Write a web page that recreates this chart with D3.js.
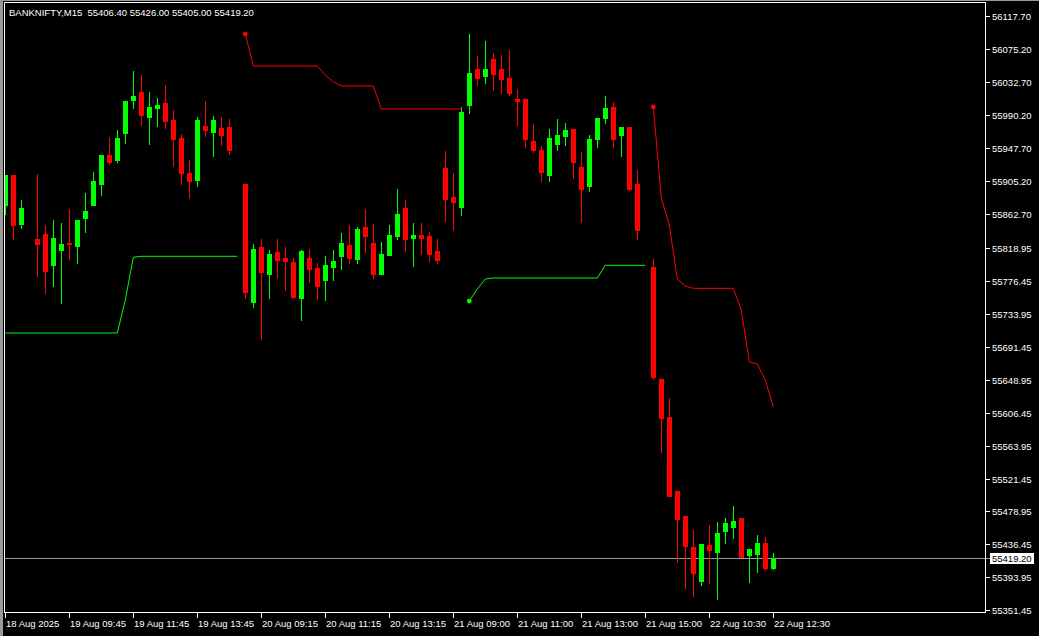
<!DOCTYPE html>
<html><head><meta charset="utf-8">
<script src="https://cdn.jsdelivr.net/npm/d3@7"></script>
<style>html,body{margin:0;padding:0;background:#000;overflow:hidden}svg{display:block}</style>
</head><body><svg id="c" width="1039" height="636"></svg>
<script>
const symbolTitle = "BANKNIFTY,M15";
const opens = [55874.3,55913.0,55849.8,null,55830.4,55836.9,55796.9,55816.2,55825.3,55821.4,
55857.5,55874.3,55901.4,55938.8,55932.3,55967.2,56009.7,56020.1,55987.8,55999.4,
56005.9,55983.9,55960.7,55915.6,55906.5,55976.2,55968.5,55973.6,55974.9,null,
55901.4,55749.2,55820.1,55785.3,55813.7,55805.9,55800.8,55754.3,55805.9,55793.0,
55777.5,55794.3,55808.5,55822.7,55804.6,55845.9,55825.3,55785.3,55809.8,55834.3,
55870.4,55831.7,55835.6,55834.3,55814.9,55922.0,55884.6,55871.7,56003.3,56049.7,
56040.7,56062.6,56049.7,56038.1,56011.0,56011.0,55956.8,55945.2,55913.0,55953.0,
55963.3,55972.3,55923.3,55898.8,55959.4,55986.5,56000.7,55964.6,55974.9,55901.4,
null,55794.3,55649.8,55600.8,55505.3,55473.1,55433.1,55389.2,55435.7,55426.7,
55453.7,55458.9,55470.5,55422.8,55424.1,55438.3,55406.4];
const highs = [55913.0,55913.0,55880.7,null,55914.3,55848.5,55854.9,55851.1,55869.1,55854.9,
55889.8,55916.9,55938.8,55962.0,55971.0,56008.4,56047.1,56042.0,56020.1,56012.3,
56029.1,55996.8,55965.9,55932.3,55987.8,56008.4,55989.1,55987.8,55985.2,null,
55901.4,55824.0,55830.4,55816.2,55830.4,55820.1,55805.9,55816.2,55817.5,55799.5,
55808.5,55816.2,55838.2,55848.5,55845.9,55869.1,55849.8,55826.6,55848.5,55894.9,
55880.7,55851.1,55851.1,55839.5,55830.4,55943.9,55915.6,56000.7,56094.9,56066.5,
56085.8,56070.4,56067.8,56074.2,56023.9,56011.0,55978.8,55950.4,55972.3,55985.2,
55980.1,55972.3,55942.7,55964.6,55986.5,56014.9,56007.2,55974.9,55974.9,55919.4,
null,55804.6,55649.8,55625.3,55505.3,55473.1,55455.0,55437.0,55461.5,55465.4,
55470.5,55486.0,55470.5,55430.5,55448.6,55446.0,55426.0];
const lows = [55862.7,55830.4,55844.6,null,55782.7,55760.8,55769.8,55747.9,55804.6,55799.5,
55839.5,55874.3,55887.2,55927.2,55929.8,55954.3,55999.4,55977.5,55953.0,55976.2,
55973.6,55924.6,55901.4,55883.3,55898.8,55963.3,55937.5,55951.7,55940.1,null,
55754.3,55742.7,55701.4,55754.3,55780.1,55764.6,55754.3,55725.9,55775.0,55753.0,
55751.7,55777.5,55791.7,55799.5,55799.5,55813.7,55780.1,55785.3,55809.8,55830.4,
55814.9,55795.6,55811.1,55802.0,55799.5,55853.6,55842.0,55861.4,55993.0,56029.1,
56031.7,56022.6,56018.8,56016.2,55977.5,55949.1,55942.7,55905.2,55905.2,55945.2,
55951.7,55909.1,55852.4,55892.3,55949.1,55980.1,55949.1,55937.5,55893.6,55830.4,
null,55649.8,55555.7,55498.9,55413.8,55380.2,55369.9,55384.1,55386.7,55366.0,
55438.3,55444.7,55420.2,55388.0,55400.9,55403.4,55405.0];
const closes = [55913.0,55848.5,55870.4,null,55824.0,55789.1,55831.7,55824.0,55824.0,55854.9,
55866.5,55905.2,55938.8,55929.8,55960.7,56008.4,56014.9,55990.4,56000.7,56003.3,
55982.6,55959.4,55915.6,55905.2,55983.9,55971.0,55983.9,55964.6,55945.2,null,
55762.1,55817.5,55787.9,55811.1,55803.3,55802.0,55755.6,55814.9,55791.7,55769.8,
55796.9,55802.0,55825.3,55805.9,55843.3,55834.3,55785.3,55811.1,55835.6,55862.7,
55830.4,55835.6,55831.7,55811.1,55803.3,55882.0,55878.2,55994.3,56044.6,56038.1,
56049.7,56043.3,56036.8,56018.8,56008.4,55959.4,55945.2,55916.9,55960.7,55964.6,
55971.0,55929.8,55894.9,55959.4,55986.5,55999.4,55959.4,55974.9,55894.9,55842.0,
null,55652.4,55599.5,55498.9,55469.2,55434.4,55399.6,55437.0,55429.2,55451.2,
55464.1,55466.6,55420.2,55430.5,55438.3,55406.0,55419.2];
// trailing stop indicator: up-trend (green) and down-trend (red) values
const upTrend = [55709.2,55709.2,55709.2,55709.2,55709.2,55709.2,55709.2,55709.2,55709.2,55709.2,
55709.2,55709.2,55709.2,55709.2,55709.2,55751.7,55806.8,55808.1,55808.1,55808.1,
55808.1,55808.1,55808.1,55808.1,55808.1,55808.1,55808.1,55808.1,55808.1,55808.1,
null,null,null,null,null,null,null,null,null,null,
null,null,null,null,null,null,null,null,null,null,
null,null,null,null,null,null,null,null,55750.4,55765.9,
55778.8,55780.1,55780.1,55780.1,55780.1,55780.1,55780.1,55780.1,55780.1,55780.1,
55780.1,55780.1,55780.1,55780.1,55780.1,55796.5,55796.5,55796.5,55796.5,55796.5,
55796.5,null,null,null,null,null,null,null,null,null,
null,null,null,null,null,null,null];
const downTrend = [null,null,null,null,null,null,null,null,null,null,
null,null,null,null,null,null,null,null,null,null,
null,null,null,null,null,null,null,null,null,null,
56094.9,56053.6,56053.6,56053.6,56053.6,56053.6,56053.6,56053.6,56053.6,56053.6,
56042.0,56033.0,56027.8,56027.8,56027.8,56027.8,56027.8,55998.1,55998.1,55998.1,
55998.1,55998.1,55998.1,55998.1,55998.1,55998.1,55998.1,55998.1,null,null,
null,null,null,null,null,null,null,null,null,null,
null,null,null,null,null,null,null,null,null,null,
null,56000.7,55883.3,55848.5,55778.8,55769.8,55766.8,55766.8,55766.8,55766.8,
55766.8,55766.8,55738.8,55671.8,55669.2,55648.5,55613.7];
const priceTicks = [56117.70,56075.20,56032.70,55990.20,55947.70,55905.20,55862.70,55818.95,55776.45,
55733.95,55691.45,55648.95,55606.45,55563.95,55521.45,55478.95,55436.45,55393.95,55351.45];
const timeTickLabels = ["18 Aug 2025","19 Aug 09:45","19 Aug 11:45","19 Aug 13:45","20 Aug 09:15",
"20 Aug 11:15","20 Aug 13:15","21 Aug 09:00","21 Aug 11:00","21 Aug 13:00","21 Aug 15:00",
"22 Aug 10:30","22 Aug 12:30"];
const timeTickBars = [0,8,16,24,32,40,48,56,64,72,80,88,96];

const W = 1039, H = 636;
const plot = {left: 4.5, top: 2.5, right: 985.5, bottom: 612.5};
const FONT = "'Liberation Sans', Arial, sans-serif";
const BULL = "#00ff00", BEAR = "#ff0000";

const n = opens.length;
const svg = d3.select("#c");
svg.append("rect").attr("width", W).attr("height", H).attr("fill", "#000");
// window edge
svg.append("rect").attr("x",0).attr("y",0).attr("width",3).attr("height",H).attr("fill","#9a9a9a");
svg.append("rect").attr("x",0).attr("y",0).attr("width",W).attr("height",1).attr("fill","#9a9a9a");

const x = d3.scaleBand().domain(d3.range(n)).range([1.3, 1.3 + 8 * n]).padding(0);
const cx = i => x(i) + x.bandwidth() / 2;
const y = d3.scaleLinear().domain([55351.45, 56117.70]).range([610.3, 16.3]);

svg.append("clipPath").attr("id","pc").append("rect")
  .attr("x", plot.left + 0.5).attr("y", plot.top + 0.5)
  .attr("width", plot.right - plot.left - 1).attr("height", plot.bottom - plot.top - 1);
const g = svg.append("g").attr("clip-path","url(#pc)");

// current price line
const lastPrice = closes[n - 1];
g.append("line").attr("x1", plot.left).attr("x2", plot.right)
  .attr("y1", Math.round(y(lastPrice)) + 0.5).attr("y2", Math.round(y(lastPrice)) + 0.5)
  .attr("stroke", "#9a9a9a").attr("stroke-width", 1);

// candles
const idx = d3.range(n).filter(i => opens[i] != null);
const cg = g.append("g").attr("shape-rendering","crispEdges");
idx.forEach(i => {
  const o = opens[i], c = closes[i], hi = highs[i], lo = lows[i];
  const col = c >= o ? BULL : BEAR;
  const px = Math.round(cx(i));
  cg.append("line").attr("x1", px + 0.5).attr("x2", px + 0.5)
    .attr("y1", Math.round(y(hi))).attr("y2", Math.round(y(lo)) + 1)
    .attr("stroke", col).attr("stroke-width", 1);
  const top = Math.round(y(Math.max(o, c))), bot = Math.round(y(Math.min(o, c)));
  cg.append("rect").attr("x", px - 2).attr("width", 5)
    .attr("y", top).attr("height", Math.max(1, bot - top + 1)).attr("fill", col);
});

// indicator lines
function drawTrend(vals, col) {
  const line = d3.line().defined(d => d.v != null).x(d => cx(d.i)).y(d => y(d.v));
  const data = vals.map((v, i) => ({i, v}));
  g.append("path").datum(data).attr("d", line).attr("fill","none")
    .attr("stroke", col).attr("stroke-width", 1);
  const starts = data.filter(d => d.v != null && d.i > 0 && vals[d.i - 1] == null);
  g.selectAll(null).data(starts).enter().append("circle")
    .attr("cx", d => cx(d.i)).attr("cy", d => y(d.v)).attr("r", 2.4).attr("fill", col);
}
drawTrend(upTrend, BULL);
drawTrend(downTrend, BEAR);

// frame
svg.append("rect").attr("x", plot.left).attr("y", plot.top)
  .attr("width", plot.right - plot.left).attr("height", plot.bottom - plot.top)
  .attr("fill","none").attr("stroke","#fff").attr("stroke-width",1).attr("shape-rendering","crispEdges");

// right price axis
const ya = svg.append("g").attr("shape-rendering","crispEdges");
priceTicks.forEach(v => {
  const py = Math.round(y(v)) + 0.5;
  ya.append("line").attr("x1", plot.right).attr("x2", plot.right + 4).attr("y1", py).attr("y2", py)
    .attr("stroke","#fff");
  svg.append("text").attr("x", 992).attr("y", py + 3.5).text(v.toFixed(2))
    .attr("fill","#fff").attr("font-family", FONT).attr("font-size","9.5px");
});
// current price label
const lpy = Math.round(y(lastPrice)) + 0.5;
svg.append("line").attr("x1", plot.right).attr("x2", plot.right + 4).attr("y1", lpy).attr("y2", lpy)
  .attr("stroke","#9a9a9a").attr("shape-rendering","crispEdges");
svg.append("rect").attr("x", 990).attr("y", lpy - 5.5).attr("width", 44).attr("height", 11).attr("fill","#fff");
svg.append("text").attr("x", 992).attr("y", lpy + 3.5).text(lastPrice.toFixed(2))
  .attr("fill","#000").attr("font-family", FONT).attr("font-size","9.5px");

// bottom time axis
timeTickBars.forEach((b, k) => {
  const px = Math.round(cx(b)) + 0.5;
  svg.append("line").attr("x1", px).attr("x2", px).attr("y1", plot.bottom).attr("y2", plot.bottom + 5)
    .attr("stroke","#fff").attr("shape-rendering","crispEdges");
  svg.append("text").attr("x", px + 0.5).attr("y", 627).text(timeTickLabels[k])
    .attr("fill","#fff").attr("font-family", FONT).attr("font-size","9.5px");
});

// chart shift marker
const sx = cx(n + 1);
svg.append("path").attr("d", `M${sx-5},${plot.top+1}L${sx+5},${plot.top+1}L${sx},${plot.top+6}Z`).attr("fill","#8a8a8a");

// title
svg.append("text").attr("x", 9).attr("y", 16)
  .text(`${symbolTitle}  ${opens[n-1].toFixed(2)} ${highs[n-1].toFixed(2)} ${lows[n-1].toFixed(2)} ${closes[n-1].toFixed(2)}`)
  .attr("xml:space","preserve").style("white-space","pre")
  .attr("fill","#fff").attr("font-family", FONT).attr("font-size","9.5px");
</script></body></html>
